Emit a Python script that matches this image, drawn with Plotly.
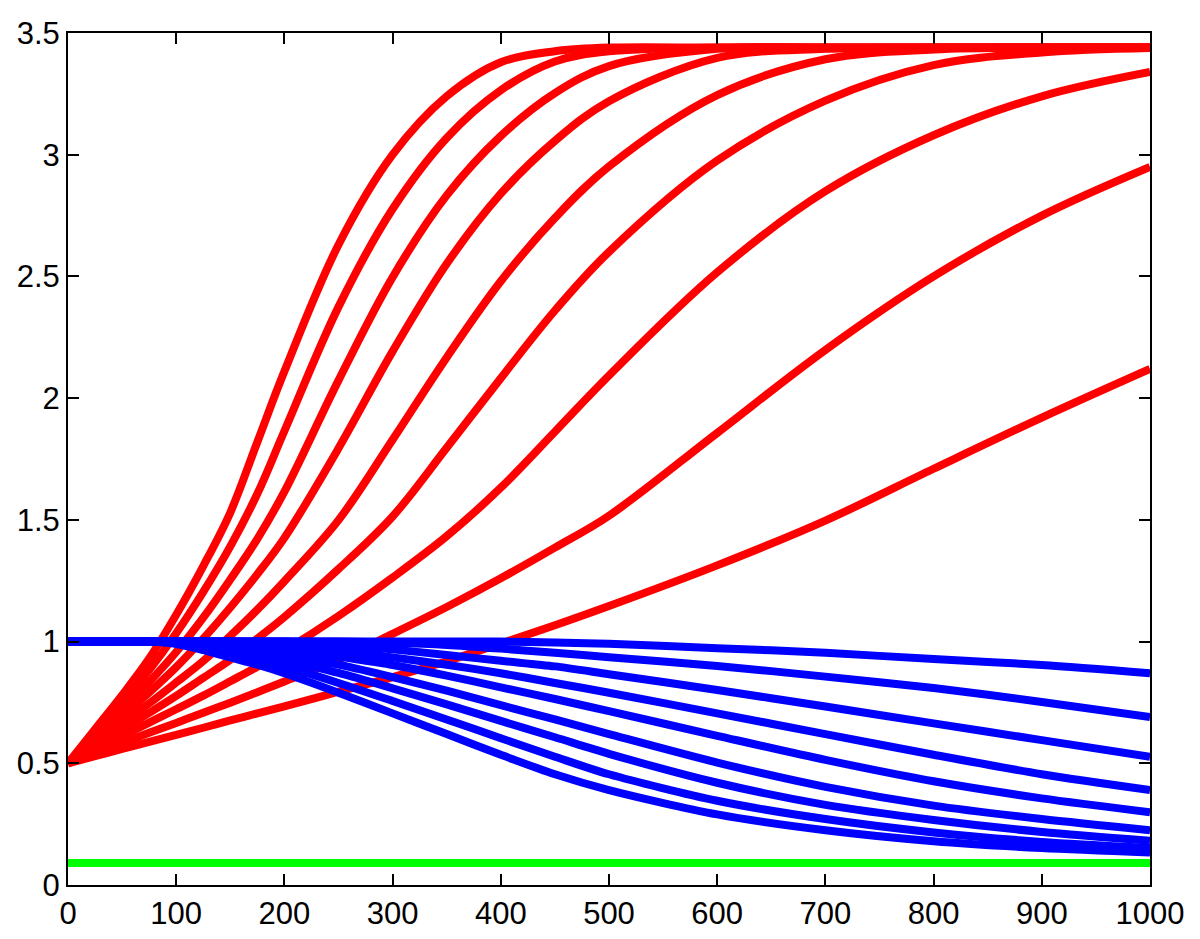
import plotly.graph_objects as go

# x sample positions (shared by all curves)
x_vals = [0, 25, 50, 75, 100, 125, 150, 175, 200, 250, 300, 350, 400, 450, 500,
          600, 700, 800, 900, 1000]

# red (rising) curves, fastest first
red_1 = [0.50, 0.64, 0.78, 0.93, 1.11, 1.31, 1.53, 1.82, 2.11, 2.63, 3.00, 3.24, 3.38, 3.425, 3.44, 3.44, 3.44, 3.44, 3.44, 3.44]
red_2 = [0.50, 0.625, 0.75, 0.883, 1.034, 1.204, 1.391, 1.607, 1.865, 2.375, 2.777, 3.069, 3.265, 3.383, 3.425, 3.44, 3.44, 3.44, 3.44, 3.44]
red_3 = [0.50, 0.61, 0.721, 0.834, 0.957, 1.098, 1.255, 1.422, 1.616, 2.073, 2.497, 2.833, 3.077, 3.253, 3.364, 3.435, 3.44, 3.44, 3.44, 3.44]
red_4 = [0.50, 0.597, 0.694, 0.791, 0.895, 1.012, 1.14, 1.277, 1.426, 1.794, 2.192, 2.552, 2.84, 3.057, 3.22, 3.398, 3.435, 3.44, 3.44, 3.44]
red_5 = [0.50, 0.582, 0.664, 0.746, 0.832, 0.92, 1.023, 1.131, 1.248, 1.499, 1.829, 2.167, 2.48, 2.74, 2.952, 3.245, 3.392, 3.432, 3.44, 3.44]
red_6 = [0.50, 0.569, 0.638, 0.707, 0.777, 0.851, 0.925, 1.012, 1.101, 1.298, 1.514, 1.796, 2.082, 2.36, 2.601, 2.976, 3.222, 3.368, 3.42, 3.438]
red_7 = [0.50, 0.555, 0.611, 0.667, 0.722, 0.778, 0.837, 0.897, 0.962, 1.105, 1.263, 1.433, 1.632, 1.862, 2.093, 2.517, 2.85, 3.08, 3.24, 3.34]
red_8 = [0.50, 0.541, 0.583, 0.625, 0.666, 0.708, 0.749, 0.792, 0.836, 0.926, 1.032, 1.142, 1.26, 1.386, 1.517, 1.857, 2.198, 2.50, 2.75, 2.95]
red_9 = [0.50, 0.529, 0.559, 0.588, 0.617, 0.646, 0.676, 0.705, 0.734, 0.794, 0.854, 0.919, 0.992, 1.067, 1.146, 1.313, 1.497, 1.71, 1.92, 2.12]

# blue (decaying) curves, fastest first
blue_1 = [1.0, 1.0, 1.0, 1.0, 0.99, 0.965, 0.935, 0.905, 0.87, 0.79, 0.705, 0.62, 0.535, 0.455, 0.39, 0.29, 0.225, 0.18, 0.152, 0.134]
blue_2 = [1.0, 1.0, 1.0, 1.0, 0.995, 0.978, 0.953, 0.926, 0.898, 0.83, 0.756, 0.68, 0.603, 0.527, 0.455, 0.346, 0.271, 0.216, 0.177, 0.152]
blue_3 = [1.0, 1.0, 1.0, 1.0, 1.0, 0.99, 0.971, 0.948, 0.924, 0.871, 0.808, 0.742, 0.674, 0.607, 0.539, 0.42, 0.329, 0.267, 0.218, 0.182]
blue_4 = [1.0, 1.0, 1.0, 1.0, 1.0, 0.996, 0.985, 0.968, 0.947, 0.905, 0.854, 0.798, 0.739, 0.68, 0.62, 0.503, 0.403, 0.326, 0.271, 0.225]
blue_5 = [1.0, 1.0, 1.0, 1.0, 1.0, 1.0, 0.996, 0.987, 0.972, 0.938, 0.904, 0.86, 0.812, 0.764, 0.714, 0.613, 0.514, 0.426, 0.356, 0.299]
blue_6 = [1.0, 1.0, 1.0, 1.0, 1.0, 1.0, 1.0, 0.996, 0.99, 0.965, 0.935, 0.905, 0.87, 0.83, 0.79, 0.705, 0.62, 0.535, 0.455, 0.39]
blue_7 = [1.0, 1.0, 1.0, 1.0, 1.0, 1.0, 1.0, 1.0, 1.0, 0.989, 0.968, 0.945, 0.921, 0.898, 0.866, 0.801, 0.733, 0.664, 0.595, 0.527]
blue_8 = [1.0, 1.0, 1.0, 1.0, 1.0, 1.0, 1.0, 1.0, 1.0, 1.0, 0.995, 0.986, 0.971, 0.954, 0.936, 0.900, 0.856, 0.809, 0.752, 0.69]
blue_9 = [1.0, 1.0, 1.0, 1.0, 1.0, 1.0, 1.0, 1.0, 1.0, 1.0, 1.0, 1.0, 1.0, 0.996, 0.991, 0.973, 0.954, 0.928, 0.904, 0.87]

# green constant level
green_level = [0.09] * len(x_vals)

red_series = [red_1, red_2, red_3, red_4, red_5, red_6, red_7, red_8, red_9]
blue_series = [blue_1, blue_2, blue_3, blue_4, blue_5, blue_6, blue_7, blue_8, blue_9]

x_ticks = [0, 100, 200, 300, 400, 500, 600, 700, 800, 900, 1000]
y_ticks = [0, 0.5, 1, 1.5, 2, 2.5, 3, 3.5]
y_tick_labels = ["0", "0.5", "1", "1.5", "2", "2.5", "3", "3.5"]

fig = go.Figure()
for ys in red_series:
    fig.add_trace(go.Scatter(x=x_vals, y=ys, mode="lines",
                             line=dict(color="#ff0000", width=8, shape="spline", smoothing=1.0),
                             showlegend=False, hoverinfo="skip"))
for ys in blue_series:
    fig.add_trace(go.Scatter(x=x_vals, y=ys, mode="lines",
                             line=dict(color="#0000ff", width=8, shape="spline", smoothing=0.8),
                             showlegend=False, hoverinfo="skip"))
fig.add_trace(go.Scatter(x=x_vals, y=green_level, mode="lines",
                         line=dict(color="#00ff00", width=8),
                         showlegend=False, hoverinfo="skip"))

axis_common = dict(showline=True, linecolor="black", linewidth=2, mirror="ticks",
                   ticks="inside", ticklen=11, tickwidth=2, tickcolor="black",
                   showgrid=False, zeroline=False, automargin=False,
                   tickfont=dict(family="Liberation Sans, Arial, sans-serif", size=31, color="black"))

fig.update_xaxes(range=[0, 1000], tickvals=x_ticks, **axis_common)
fig.update_yaxes(range=[0, 3.5], tickvals=y_ticks, ticktext=y_tick_labels, **axis_common)

fig.update_layout(width=1200, height=939,
                  margin=dict(l=60, r=58, t=25, b=62),
                  plot_bgcolor="white", paper_bgcolor="white")

fig.write_html("out.html")
